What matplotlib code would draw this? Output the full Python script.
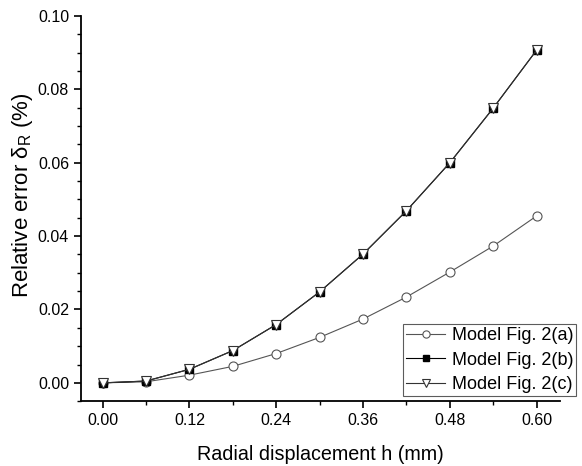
import matplotlib
matplotlib.use("Agg")
import matplotlib.pyplot as plt
from matplotlib.ticker import MultipleLocator

plt.rcParams['font.family'] = ['Liberation Sans', 'DejaVu Sans']

h = [0.00, 0.06, 0.12, 0.18, 0.24, 0.30, 0.36, 0.42, 0.48, 0.54, 0.60]
err_a = [0.0, 0.0003, 0.0021, 0.0045, 0.0080, 0.0124, 0.0174, 0.0234, 0.0302, 0.0373, 0.0455]
err_b = [0.0, 0.0005, 0.0037, 0.0088, 0.0159, 0.0248, 0.0351, 0.0469, 0.0600, 0.0749, 0.0907]
err_c = [0.0, 0.0005, 0.0037, 0.0088, 0.0159, 0.0248, 0.0351, 0.0469, 0.0600, 0.0749, 0.0907]
labels = ["Model Fig. 2(a)", "Model Fig. 2(b)", "Model Fig. 2(c)"]

fig = plt.figure(figsize=(5.82, 4.66), dpi=100)
ax = fig.add_axes([0.139, 0.139, 0.823, 0.827])

ax.plot(h, err_a, color='#555555', lw=0.8, marker='o', ms=6.5, mfc='white',
        mec='#555555', mew=0.8, label=labels[0])
ax.plot(h, err_b, color='black', lw=0.8, marker='s', ms=5.5, mfc='black',
        mec='black', label=labels[1])
ax.plot(h, err_c, color='#333333', lw=0.8, marker='v', ms=6.5, mfc='white',
        mec='#333333', mew=0.8, label=labels[2])

ax.set_xlim(-0.03, 0.632)
ax.set_ylim(-0.005, 0.10)
ax.set_xticks([0.0, 0.12, 0.24, 0.36, 0.48, 0.60])
ax.xaxis.set_minor_locator(MultipleLocator(0.06))
ax.yaxis.set_major_locator(MultipleLocator(0.02))
ax.yaxis.set_minor_locator(MultipleLocator(0.005))
ax.xaxis.set_major_formatter(plt.FormatStrFormatter('%.2f'))
ax.yaxis.set_major_formatter(plt.FormatStrFormatter('%.2f'))
ax.tick_params(which='major', direction='out', length=5, width=1.2, labelsize=11.5)
ax.tick_params(which='minor', direction='out', length=3, width=1.0)

for s in ['top', 'right']:
    ax.spines[s].set_visible(False)
for s in ['left', 'bottom']:
    ax.spines[s].set_linewidth(1.3)

ax.set_xlabel("Radial displacement h (mm)", fontsize=14.2, labelpad=12)
ax.set_ylabel(r"Relative error $\mathregular{\delta_R}$ (%)", fontsize=16)
ax.yaxis.set_label_coords(-0.095, 0.535)

leg = ax.legend(loc='lower right', bbox_to_anchor=(1.045, 0.0), fontsize=13,
                frameon=True, fancybox=False, edgecolor='#333333',
                handlelength=2.2, handletextpad=0.35, borderpad=0.15,
                labelspacing=0.42, borderaxespad=0.3, markerscale=0.8)
leg.get_frame().set_linewidth(0.8)

fig.savefig("out.png", dpi=100)
